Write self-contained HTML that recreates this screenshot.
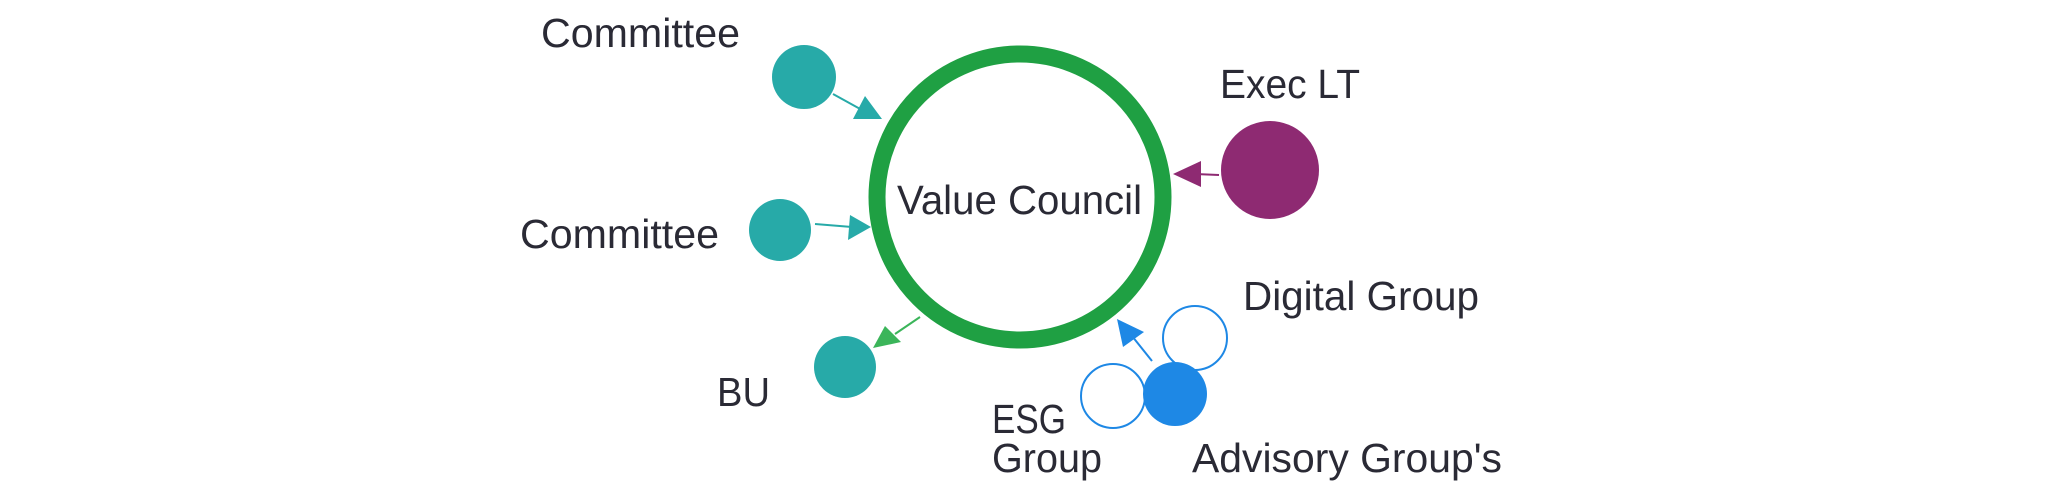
<!DOCTYPE html>
<html><head><style>
html,body{margin:0;padding:0;background:#fff;}
svg{display:block;}
text{font-family:"Liberation Sans",sans-serif;fill:#2a2a35;font-size:41px;}
</style></head><body>
<svg width="2048" height="499" viewBox="0 0 2048 499">
<circle cx="1020" cy="197" r="143" fill="none" stroke="#1fa043" stroke-width="17"/>
<text x="897" y="214" textLength="245" lengthAdjust="spacingAndGlyphs">Value Council</text>

<circle cx="804" cy="77" r="32" fill="#27aaa8"/>
<text x="541" y="47" textLength="199" lengthAdjust="spacingAndGlyphs">Committee</text>
<line x1="833" y1="94" x2="862" y2="110" stroke="#27aaa8" stroke-width="2"/>
<polygon points="853,119 882,119 865,96" fill="#27aaa8"/>

<circle cx="780" cy="230" r="31" fill="#27aaa8"/>
<text x="520" y="248" textLength="199" lengthAdjust="spacingAndGlyphs">Committee</text>
<line x1="815" y1="224" x2="852" y2="227" stroke="#27aaa8" stroke-width="2"/>
<polygon points="871,227 850,215 848,240" fill="#27aaa8"/>

<circle cx="1270" cy="170" r="49" fill="#8e2a72"/>
<text x="1220" y="98" textLength="140" lengthAdjust="spacingAndGlyphs">Exec LT</text>
<line x1="1219" y1="175" x2="1195" y2="174" stroke="#8e2a72" stroke-width="2"/>
<polygon points="1173,174 1201,161 1201,187" fill="#8e2a72"/>

<circle cx="845" cy="367" r="31" fill="#27aaa8"/>
<text x="717" y="406" textLength="53" lengthAdjust="spacingAndGlyphs">BU</text>
<line x1="920" y1="317" x2="895" y2="334" stroke="#3bb55a" stroke-width="2"/>
<polygon points="873,348 885,326 901,342" fill="#3bb55a"/>

<circle cx="1195" cy="338" r="32" fill="none" stroke="#1e88e5" stroke-width="2"/>
<circle cx="1113" cy="396" r="32" fill="#fff" stroke="#1e88e5" stroke-width="2"/>
<circle cx="1175" cy="394" r="32" fill="#1e88e5"/>
<line x1="1152" y1="361" x2="1132" y2="336" stroke="#1e88e5" stroke-width="2"/>
<polygon points="1117,319 1123,347 1144,332" fill="#1e88e5"/>

<text x="1243" y="310" textLength="236" lengthAdjust="spacingAndGlyphs">Digital Group</text>
<text x="1192" y="472" textLength="310" lengthAdjust="spacingAndGlyphs">Advisory Group's</text>
<text x="992" y="433" textLength="74" lengthAdjust="spacingAndGlyphs">ESG</text>
<text x="992" y="472" textLength="110" lengthAdjust="spacingAndGlyphs">Group</text>
</svg>
</body></html>
